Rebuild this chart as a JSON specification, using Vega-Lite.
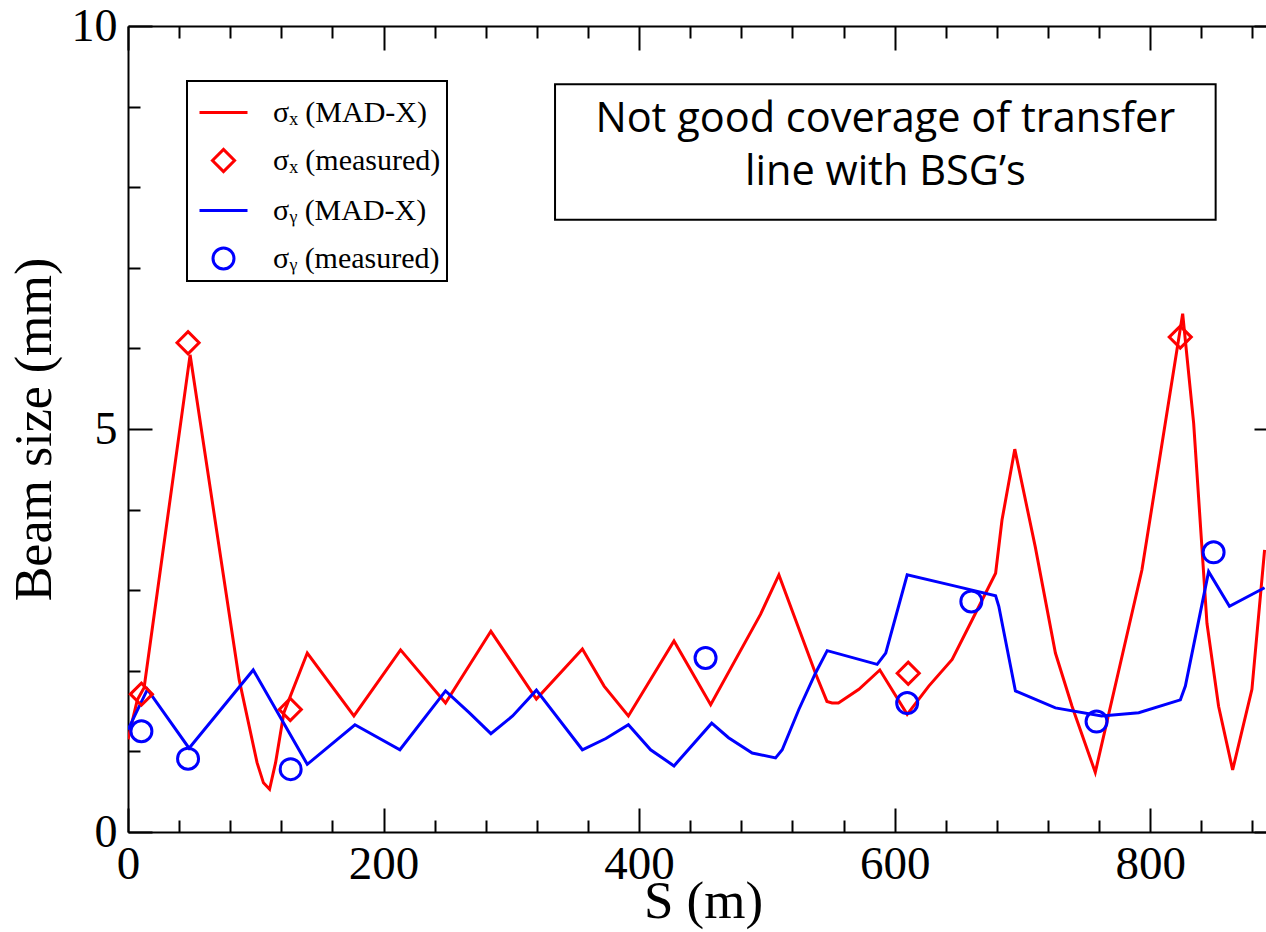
{
  "$schema": "https://vega.github.io/schema/vega-lite/v6.json",
  "width": 1150,
  "height": 806,
  "autosize": {"type": "none"},
  "padding": {"left": 128, "top": 26, "right": -12, "bottom": 100},
  "background": "white",
  "config": {"view": {"stroke": null}, "font": "Liberation Serif"},
  "datasets": {
    "beam": [
      {"s": 0, "v": 1.15, "series": "σₓ (MAD-X)"},
      {"s": 7.3, "v": 1.64, "series": "σₓ (MAD-X)"},
      {"s": 12.6, "v": 1.79, "series": "σₓ (MAD-X)"},
      {"s": 48.6, "v": 5.92, "series": "σₓ (MAD-X)"},
      {"s": 87, "v": 1.89, "series": "σₓ (MAD-X)"},
      {"s": 101, "v": 0.86, "series": "σₓ (MAD-X)"},
      {"s": 106, "v": 0.61, "series": "σₓ (MAD-X)"},
      {"s": 110.8, "v": 0.53, "series": "σₓ (MAD-X)"},
      {"s": 115.5, "v": 0.86, "series": "σₓ (MAD-X)"},
      {"s": 122, "v": 1.48, "series": "σₓ (MAD-X)"},
      {"s": 140.3, "v": 2.22, "series": "σₓ (MAD-X)"},
      {"s": 176.8, "v": 1.44, "series": "σₓ (MAD-X)"},
      {"s": 213.3, "v": 2.26, "series": "σₓ (MAD-X)"},
      {"s": 248.5, "v": 1.6, "series": "σₓ (MAD-X)"},
      {"s": 284, "v": 2.49, "series": "σₓ (MAD-X)"},
      {"s": 319.6, "v": 1.65, "series": "σₓ (MAD-X)"},
      {"s": 355.6, "v": 2.27, "series": "σₓ (MAD-X)"},
      {"s": 372.6, "v": 1.81, "series": "σₓ (MAD-X)"},
      {"s": 391.6, "v": 1.44, "series": "σₓ (MAD-X)"},
      {"s": 427.3, "v": 2.37, "series": "σₓ (MAD-X)"},
      {"s": 456, "v": 1.58, "series": "σₓ (MAD-X)"},
      {"s": 495, "v": 2.7, "series": "σₓ (MAD-X)"},
      {"s": 509.4, "v": 3.19, "series": "σₓ (MAD-X)"},
      {"s": 522.5, "v": 2.63, "series": "σₓ (MAD-X)"},
      {"s": 538, "v": 1.97, "series": "σₓ (MAD-X)"},
      {"s": 547, "v": 1.62, "series": "σₓ (MAD-X)"},
      {"s": 551, "v": 1.6, "series": "σₓ (MAD-X)"},
      {"s": 556, "v": 1.6, "series": "σₓ (MAD-X)"},
      {"s": 572, "v": 1.77, "series": "σₓ (MAD-X)"},
      {"s": 588.4, "v": 2.01, "series": "σₓ (MAD-X)"},
      {"s": 609.8, "v": 1.46, "series": "σₓ (MAD-X)"},
      {"s": 626.7, "v": 1.81, "series": "σₓ (MAD-X)"},
      {"s": 645, "v": 2.14, "series": "σₓ (MAD-X)"},
      {"s": 660.6, "v": 2.63, "series": "σₓ (MAD-X)"},
      {"s": 679, "v": 3.21, "series": "σₓ (MAD-X)"},
      {"s": 684, "v": 3.87, "series": "σₓ (MAD-X)"},
      {"s": 694, "v": 4.75, "series": "σₓ (MAD-X)"},
      {"s": 710, "v": 3.54, "series": "σₓ (MAD-X)"},
      {"s": 725.8, "v": 2.22, "series": "σₓ (MAD-X)"},
      {"s": 738.8, "v": 1.56, "series": "σₓ (MAD-X)"},
      {"s": 757, "v": 0.74, "series": "σₓ (MAD-X)"},
      {"s": 793.5, "v": 3.25, "series": "σₓ (MAD-X)"},
      {"s": 825.4, "v": 6.43, "series": "σₓ (MAD-X)"},
      {"s": 834, "v": 5.07, "series": "σₓ (MAD-X)"},
      {"s": 844.4, "v": 2.59, "series": "σₓ (MAD-X)"},
      {"s": 853.5, "v": 1.56, "series": "σₓ (MAD-X)"},
      {"s": 864.5, "v": 0.77, "series": "σₓ (MAD-X)"},
      {"s": 879.6, "v": 1.77, "series": "σₓ (MAD-X)"},
      {"s": 889.5, "v": 3.5, "series": "σₓ (MAD-X)"},

      {"s": 10.5, "v": 1.71, "series": "σₓ (measured)"},
      {"s": 47, "v": 6.07, "series": "σₓ (measured)"},
      {"s": 127, "v": 1.52, "series": "σₓ (measured)"},
      {"s": 610.6, "v": 1.97, "series": "σₓ (measured)"},
      {"s": 823.5, "v": 6.14, "series": "σₓ (measured)"},

      {"s": 0, "v": 1.27, "series": "σᵧ (MAD-X)"},
      {"s": 15.2, "v": 1.77, "series": "σᵧ (MAD-X)"},
      {"s": 47.8, "v": 1.04, "series": "σᵧ (MAD-X)"},
      {"s": 98, "v": 2.01, "series": "σᵧ (MAD-X)"},
      {"s": 140.3, "v": 0.84, "series": "σᵧ (MAD-X)"},
      {"s": 177.6, "v": 1.33, "series": "σᵧ (MAD-X)"},
      {"s": 212.8, "v": 1.02, "series": "σᵧ (MAD-X)"},
      {"s": 248.5, "v": 1.75, "series": "σᵧ (MAD-X)"},
      {"s": 267, "v": 1.48, "series": "σᵧ (MAD-X)"},
      {"s": 284, "v": 1.22, "series": "σᵧ (MAD-X)"},
      {"s": 301, "v": 1.44, "series": "σᵧ (MAD-X)"},
      {"s": 319.6, "v": 1.76, "series": "σᵧ (MAD-X)"},
      {"s": 355.6, "v": 1.02, "series": "σᵧ (MAD-X)"},
      {"s": 374, "v": 1.16, "series": "σᵧ (MAD-X)"},
      {"s": 391.6, "v": 1.33, "series": "σᵧ (MAD-X)"},
      {"s": 409, "v": 1.02, "series": "σᵧ (MAD-X)"},
      {"s": 427.3, "v": 0.82, "series": "σᵧ (MAD-X)"},
      {"s": 456.8, "v": 1.35, "series": "σᵧ (MAD-X)"},
      {"s": 470, "v": 1.17, "series": "σᵧ (MAD-X)"},
      {"s": 488.5, "v": 0.98, "series": "σᵧ (MAD-X)"},
      {"s": 506.8, "v": 0.92, "series": "σᵧ (MAD-X)"},
      {"s": 512, "v": 1.02, "series": "σᵧ (MAD-X)"},
      {"s": 525, "v": 1.52, "series": "σᵧ (MAD-X)"},
      {"s": 538, "v": 1.97, "series": "σᵧ (MAD-X)"},
      {"s": 547.2, "v": 2.25, "series": "σᵧ (MAD-X)"},
      {"s": 586.3, "v": 2.08, "series": "σᵧ (MAD-X)"},
      {"s": 593, "v": 2.22, "series": "σᵧ (MAD-X)"},
      {"s": 609.8, "v": 3.19, "series": "σᵧ (MAD-X)"},
      {"s": 645, "v": 3.06, "series": "σᵧ (MAD-X)"},
      {"s": 679, "v": 2.93, "series": "σᵧ (MAD-X)"},
      {"s": 681.5, "v": 2.8, "series": "σᵧ (MAD-X)"},
      {"s": 694.5, "v": 1.75, "series": "σᵧ (MAD-X)"},
      {"s": 725.8, "v": 1.54, "series": "σᵧ (MAD-X)"},
      {"s": 762, "v": 1.44, "series": "σᵧ (MAD-X)"},
      {"s": 791, "v": 1.48, "series": "σᵧ (MAD-X)"},
      {"s": 823.6, "v": 1.64, "series": "σᵧ (MAD-X)"},
      {"s": 827.5, "v": 1.81, "series": "σᵧ (MAD-X)"},
      {"s": 845.7, "v": 3.23, "series": "σᵧ (MAD-X)"},
      {"s": 862, "v": 2.8, "series": "σᵧ (MAD-X)"},
      {"s": 889.5, "v": 3.03, "series": "σᵧ (MAD-X)"},

      {"s": 10.5, "v": 1.25, "series": "σᵧ (measured)"},
      {"s": 47, "v": 0.91, "series": "σᵧ (measured)"},
      {"s": 127.3, "v": 0.78, "series": "σᵧ (measured)"},
      {"s": 452, "v": 2.16, "series": "σᵧ (measured)"},
      {"s": 609.8, "v": 1.6, "series": "σᵧ (measured)"},
      {"s": 660, "v": 2.86, "series": "σᵧ (measured)"},
      {"s": 758, "v": 1.37, "series": "σᵧ (measured)"},
      {"s": 849.6, "v": 3.47, "series": "σᵧ (measured)"}
    ]
  },
  "resolve": {"axis": {"x": "independent", "y": "independent"}},
  "layer": [
    {
      "data": {"values": [{}]},
      "mark": {"type": "rect", "fill": "white", "stroke": "black", "strokeWidth": 2},
      "encoding": {
        "x": {"datum": 334.2, "type": "quantitative", "axis": null, "scale": {"domain": [0, 900], "nice": false, "zero": false}},
        "x2": {"datum": 851.2},
        "y": {"datum": 9.277, "type": "quantitative", "axis": null, "scale": {"domain": [0, 10], "nice": false}},
        "y2": {"datum": 7.595}
      }
    },
    {
      "data": {"values": [{}]},
      "mark": {"type": "text", "text": ["Not good coverage of transfer", "line with BSG’s"], "font": "Open Sans", "fontSize": 41.5, "lineHeight": 53, "align": "center", "baseline": "alphabetic", "color": "black"},
      "encoding": {
        "x": {"datum": 592.7, "type": "quantitative", "axis": null},
        "y": {"datum": 8.69, "type": "quantitative", "axis": null}
      }
    },
    {
      "data": {"name": "beam"},
      "transform": [{"filter": {"field": "series", "oneOf": ["σₓ (MAD-X)", "σᵧ (MAD-X)"]}}],
      "mark": {"type": "line", "strokeWidth": 3, "clip": true},
      "encoding": {
        "x": {
          "field": "s", "type": "quantitative",
          "axis": {
            "orient": "bottom",
            "values": [0, 40, 80, 120, 160, 200, 240, 280, 320, 360, 400, 440, 480, 520, 560, 600, 640, 680, 720, 760, 800, 840, 880],
            "tickSize": {"condition": {"test": "datum.value % 200 === 0", "value": -24}, "value": -12},
            "labelExpr": "datum.value % 200 === 0 ? datum.label : ''",
            "grid": false, "domainColor": "black", "domainWidth": 2, "tickColor": "black", "tickWidth": 2,
            "labelFont": "Liberation Serif", "labelFontSize": 47, "labelColor": "black", "labelPadding": 33,
            "labelFlush": false, "labelOverlap": false,
            "title": "S (m)", "titleFont": "Liberation Serif", "titleFontSize": 53, "titleFontWeight": "normal", "titleColor": "black", "titlePadding": -24
          }
        },
        "y": {
          "field": "v", "type": "quantitative",
          "axis": {
            "orient": "left",
            "values": [0, 1, 2, 3, 4, 5, 6, 7, 8, 9, 10],
            "tickSize": {"condition": {"test": "datum.value % 5 === 0", "value": -24}, "value": -12},
            "labelExpr": "datum.value % 5 === 0 ? datum.label : ''",
            "grid": false, "domainColor": "black", "domainWidth": 2, "tickColor": "black", "tickWidth": 2,
            "labelFont": "Liberation Serif", "labelFontSize": 46, "labelColor": "black", "labelPadding": 35,
            "labelFlush": false, "labelOverlap": false,
            "title": "Beam size (mm)", "titleFont": "Liberation Serif", "titleFontSize": 52, "titleFontWeight": "normal", "titleColor": "black", "titlePadding": 10
          }
        },
        "color": {
          "field": "series", "type": "nominal",
          "scale": {"domain": ["σₓ (MAD-X)", "σₓ (measured)", "σᵧ (MAD-X)", "σᵧ (measured)"], "range": ["#ff0000", "#ff0000", "#0000ff", "#0000ff"]},
          "legend": {
            "title": null, "orient": "none", "legendX": 59, "legendY": 55,
            "strokeColor": "black", "padding": 6, "fillColor": "white",
            "symbolOffset": 5, "symbolStrokeWidth": 3, "symbolSize": 2304,
            "labelFont": "Liberation Serif", "labelFontSize": 30, "labelColor": "black", "labelOffset": 24, "labelLimit": 0,
            "rowPadding": 7,
            "encode": {"legend": {"update": {"strokeWidth": {"value": 2}}}}
          }
        }
      }
    },
    {
      "data": {"name": "beam"},
      "transform": [{"filter": {"field": "series", "oneOf": ["σₓ (measured)", "σᵧ (measured)"]}}],
      "mark": {"type": "point", "filled": false, "strokeWidth": 3, "opacity": 1, "size": 2304},
      "encoding": {
        "x": {
          "field": "s", "type": "quantitative",
          "axis": {
            "orient": "top",
            "values": [0, 40, 80, 120, 160, 200, 240, 280, 320, 360, 400, 440, 480, 520, 560, 600, 640, 680, 720, 760, 800, 840, 880],
            "tickSize": {"condition": {"test": "datum.value % 200 === 0", "value": -24}, "value": -12},
            "labels": false, "title": null,
            "grid": false, "domainColor": "black", "domainWidth": 2, "tickColor": "black", "tickWidth": 2
          }
        },
        "y": {
          "field": "v", "type": "quantitative",
          "axis": {
            "orient": "right",
            "values": [0, 1, 2, 3, 4, 5, 6, 7, 8, 9, 10],
            "tickSize": {"condition": {"test": "datum.value % 5 === 0", "value": -24}, "value": -12},
            "labels": false, "title": null,
            "grid": false, "domainColor": "black", "domainWidth": 2, "tickColor": "black", "tickWidth": 2
          }
        },
        "color": {"field": "series", "type": "nominal"},
        "shape": {
          "field": "series", "type": "nominal",
          "scale": {
            "type": "ordinal",
            "domain": ["σₓ (MAD-X)", "σₓ (measured)", "σᵧ (MAD-X)", "σᵧ (measured)"],
            "range": [
              "M-1,0L1,0",
              "M-0.46,0L0,-0.46L0.46,0L0,0.46Z",
              "M-1,0L1,0",
              "M0.4375,0A0.4375,0.4375,0,1,1,-0.4375,0A0.4375,0.4375,0,1,1,0.4375,0Z"
            ]
          }
        }
      }
    }
  ]
}
